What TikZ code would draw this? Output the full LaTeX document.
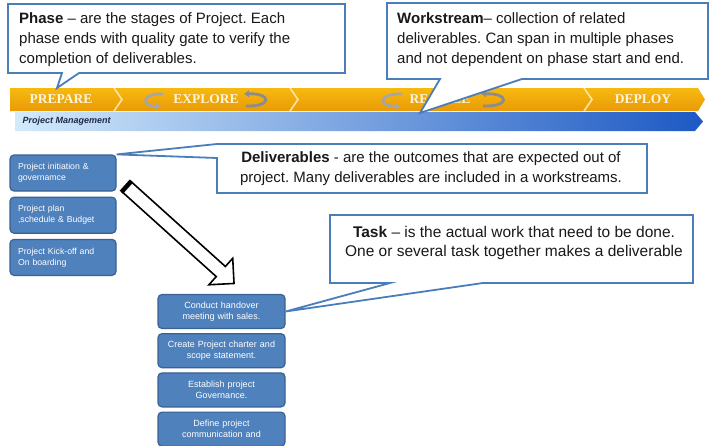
\documentclass[tikz,border=0pt]{standalone}
\usepackage{fontspec}
\setmainfont{Liberation Sans}
\newfontfamily\phasefont{Liberation Serif}
\usetikzlibrary{positioning,shapes.arrows,arrows.meta}
\frenchspacing

\definecolor{calloutblue}{HTML}{4A7EBB}
\definecolor{boxfill}{HTML}{4F81BD}
\definecolor{boxdraw}{HTML}{3A6194}
\definecolor{phaseorange}{HTML}{F5A814}
\definecolor{phasedark}{HTML}{E99A06}
\definecolor{chevlight}{HTML}{FCE6A2}
\definecolor{phasetext}{HTML}{FFF4DA}
\definecolor{wsleft}{HTML}{D3EAFB}
\definecolor{wsmid}{HTML}{5A9BE6}
\definecolor{wsright}{HTML}{1D59C4}
\definecolor{wstext}{HTML}{1F2A4A}

\begin{document}
\begin{tikzpicture}[x=1pt,y=-1pt,
  callout/.style={draw=calloutblue,line width=1.8pt,fill=white,line join=miter},
  note/.style={font=\fontsize{15}{20}\selectfont,inner sep=0pt,text=black!90},
  delbox/.style={rectangle,rounded corners=4pt,fill=boxfill,draw=boxdraw,line width=1.2pt,
    minimum width=106pt,minimum height=36pt,text width=90pt,inner xsep=8pt,align=left,
    text=white,font=\fontsize{8.7}{11}\selectfont},
  taskbox/.style={rectangle,rounded corners=4pt,fill=boxfill,draw=boxdraw,line width=1.2pt,
    minimum width=127pt,minimum height=34pt,text width=111pt,inner xsep=8pt,align=center,
    text=white,font=\fontsize{9}{11}\selectfont},
  phase label/.style={font=\phasefont\bfseries\fontsize{13.5}{14}\selectfont,text=phasetext},
  turn arrow/.style={draw=gray!70,line width=2.8pt,-{Latex[length=5pt,width=8pt]}},
  handover/.style={single arrow,draw=black,line width=1.6pt,fill=white,minimum height=144pt,
    inner xsep=0pt,inner ysep=6pt,single arrow head extend=11pt,single arrow tip angle=90}]

  \useasboundingbox (0,0) rectangle (715,445);

  % phase bar and workstream bar
  \path[top color=phaseorange!80!yellow,bottom color=phasedark]
    (10,88) -- (698,88) -- (705,99.5) -- (698,111) -- (10,111) -- cycle;
  \foreach \x in {114,290,584}
    \draw[chevlight,line width=1.6pt] (\x,88) -- (\x+8,99.5) -- (\x,111);
  \path[left color=wsleft,middle color=wsmid,right color=wsright]
    (15,112) -- (695,112) -- (703,121.5) -- (695,131) -- (15,131) -- cycle;
  \node[font=\bfseries\itshape\fontsize{9}{10}\selectfont,text=wstext,anchor=west] (pm) at (19,121.5) {Project Management};

  \node[phase label] (prepare) at (61,99.5) {PREPARE};
  \node[phase label] (explore) at (206,99.5) {EXPLORE};
  \node[phase label] (realize) at (440,99.5) {REALIZE};
  \node[phase label] (deploy) at (643,99.5) {DEPLOY};
  \draw[turn arrow] (163,94) .. controls (141,93) and (141,107) .. (161,106);
  \draw[turn arrow,draw=gray!90,{Latex[length=5pt,width=8pt]}-] (244,94) .. controls (272,93) and (272,107) .. (246,106);
  \draw[turn arrow] (402,94) .. controls (378,93) and (378,107) .. (400,106);
  \draw[turn arrow,draw=gray!90,{Latex[length=5pt,width=8pt]}-] (481,94) .. controls (510,93) and (510,107) .. (483,106);

  % deliverables and tasks
  \node[delbox] (d1) at (63,173) {Project initiation \&\\ governamce};
  \node[delbox,below=5pt of d1] (d2) {Project plan\\ ,schedule \& Budget};
  \node[delbox,below=5pt of d2] (d3) {Project Kick-off and\\ On boarding};

  \node[taskbox] (t1) at (221.5,311.5) {Conduct handover\\ meeting with sales.};
  \node[taskbox,below=4pt of t1] (t2) {Create Project charter and\\ scope statement.};
  \node[taskbox,below=4pt of t2] (t3) {Establish project\\ Governance.};
  \node[taskbox,below=4pt of t3] (t4) {Define project\\ communication and};

  \node[handover,rotate=-42] (flow) at (178,233) {};
  \draw[line width=4.5pt] (flow.after tail) -- (flow.before tail);

  % callouts
  \draw[callout] (8,4) -- (345,4) -- (345,73) -- (79,73) -- (57,88) -- (62,73) -- (8,73) -- cycle;
  \draw[callout] (387,3) -- (708,3) -- (708,79) -- (522,79) -- (420,113) -- (440,79) -- (387,79) -- cycle;
  \draw[callout] (217,144) -- (647,144) -- (647,193) -- (217,193) -- (217,158) -- (d1.north east) -- cycle;
  \draw[callout] (330,215) -- (693,215) -- (693,283) -- (483,283) -- (t1.east) -- (390,283) -- (330,283) -- cycle;

  \node[note,anchor=north west,align=left] (phase) at (19,12)
    {\textbf{Phase} -- are the stages of Project. Each\\ phase ends with quality gate to verify the\\ completion of deliverables.};
  \node[note,anchor=north west,align=left] (workstream) at (397,12)
    {\textbf{Workstream}-- collection of related\\ deliverables. Can span in multiple phases\\ and not dependent on phase start and end.};
  \node[note,align=center] (deliverables) at (431,169)
    {\textbf{Deliverables} - are the outcomes that are expected out of\\ project. Many deliverables are included in a workstreams.};
  \node[note,align=center,font=\fontsize{15.5}{18.5}\selectfont] (task) at (514,243)
    {\textbf{Task} -- is the actual work that need to be done.\\ One or several task together makes a deliverable};
\end{tikzpicture}
\end{document}
